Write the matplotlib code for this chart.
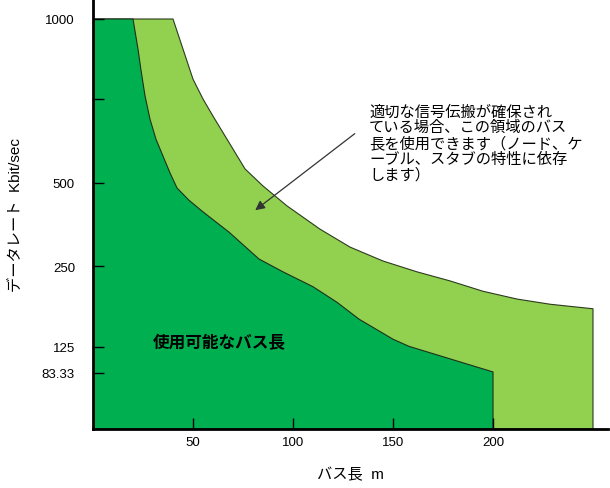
import numpy as np
import matplotlib
matplotlib.use("Agg")
import matplotlib.pyplot as plt
from matplotlib.patches import Polygon

plt.rcParams['font.family'] = ['Liberation Sans', 'Noto Sans CJK JP', 'DejaVu Sans']

# non-linear rate axis: tick values and their relative spacing on the chart
scale_vals = [0, 83.33, 125, 250, 500, 750, 1000, 1100]
scale_pos = [0, 56, 82, 163, 246, 330, 410, 440]

# usable bus length boundary (dark region)
usable_len = [0, 20, 22.5, 24, 26, 28.5, 31.5, 35, 38.5, 42, 48, 55, 68, 83, 95,
              110, 122, 133, 150, 158, 200, 200, 0]
usable_rate = [1000, 1000, 906, 840, 760, 690, 630, 580, 530, 485, 448, 413, 352,
               271, 241, 218, 194, 168, 137, 126, 85, 0, 0]

# extended boundary with proper signal propagation (light region)
ext_len = [0, 40, 45, 50, 55, 60, 70, 76, 85, 97, 113.5, 128.5, 145, 162, 178.5,
           195, 212, 228.5, 250, 250, 0]
ext_rate = [1000, 1000, 906, 812, 750, 699, 601, 542, 491, 431, 361, 307, 265, 241,
            227, 211, 199, 191, 184, 0, 0]

y_ticks = [83.33, 125, 250, 500, 750, 1000]
y_labels = ['83.33', '125', '250', '500', '', '1000']
x_ticks = [50, 100, 150, 200]

note = ("適切な信号伝搬が確保され\n"
        "ている場合、この領域のバス\n"
        "長を使用できます（ノード、ケ\n"
        "ーブル、スタブの特性に依存\n"
        "します）")


def fwd(v):
    return np.interp(v, scale_vals, scale_pos)


def inv(p):
    return np.interp(p, scale_pos, scale_vals)


fig = plt.figure(figsize=(6.1, 4.89), dpi=100)
ax = fig.add_axes([93 / 610, 1 - 430 / 489, (608 - 93) / 610, 430 / 489])
ax.set_yscale('function', functions=(fwd, inv))
ax.set_xlim(0, 257.5)
ax.set_ylim(0, inv(430))

light = Polygon(np.column_stack([ext_len, ext_rate]), closed=True,
                facecolor='#92D050', edgecolor='#2b3a1e', linewidth=0.8,
                joinstyle='round')
dark = Polygon(np.column_stack([usable_len, usable_rate]), closed=True,
               facecolor='#00B050', edgecolor='#1f2f1a', linewidth=0.8,
               joinstyle='round')
ax.add_patch(light)
ax.add_patch(dark)

ax.set_yticks(y_ticks)
ax.set_yticklabels(y_labels)
ax.set_xticks(x_ticks)
ax.tick_params(axis='y', direction='in', length=8, width=1, pad=13, labelsize=9.5)
ax.tick_params(axis='x', direction='in', length=8, width=1, pad=5, labelsize=9.5)
ax.minorticks_off()

for s in ['top', 'right']:
    ax.spines[s].set_visible(False)
ax.spines['left'].set_linewidth(2)
ax.spines['bottom'].set_linewidth(2)

ax.set_xlabel('バス長  m', fontsize=11, labelpad=14)
ax.set_ylabel('データレート  Kbit/sec', fontsize=11, labelpad=14)

ax.text(30, 133, '使用可能なバス長', fontsize=12, fontweight='bold',
        va='center', ha='left')

ax.annotate('', xy=(80, 413), xytext=(132, 652),
            arrowprops=dict(arrowstyle='-|>', color='#333333', lw=0.9,
                            mutation_scale=14))
ax.text(138, 735, note, fontsize=11, va='top', ha='left', linespacing=1.12)

fig.savefig('out.png', dpi=100)
